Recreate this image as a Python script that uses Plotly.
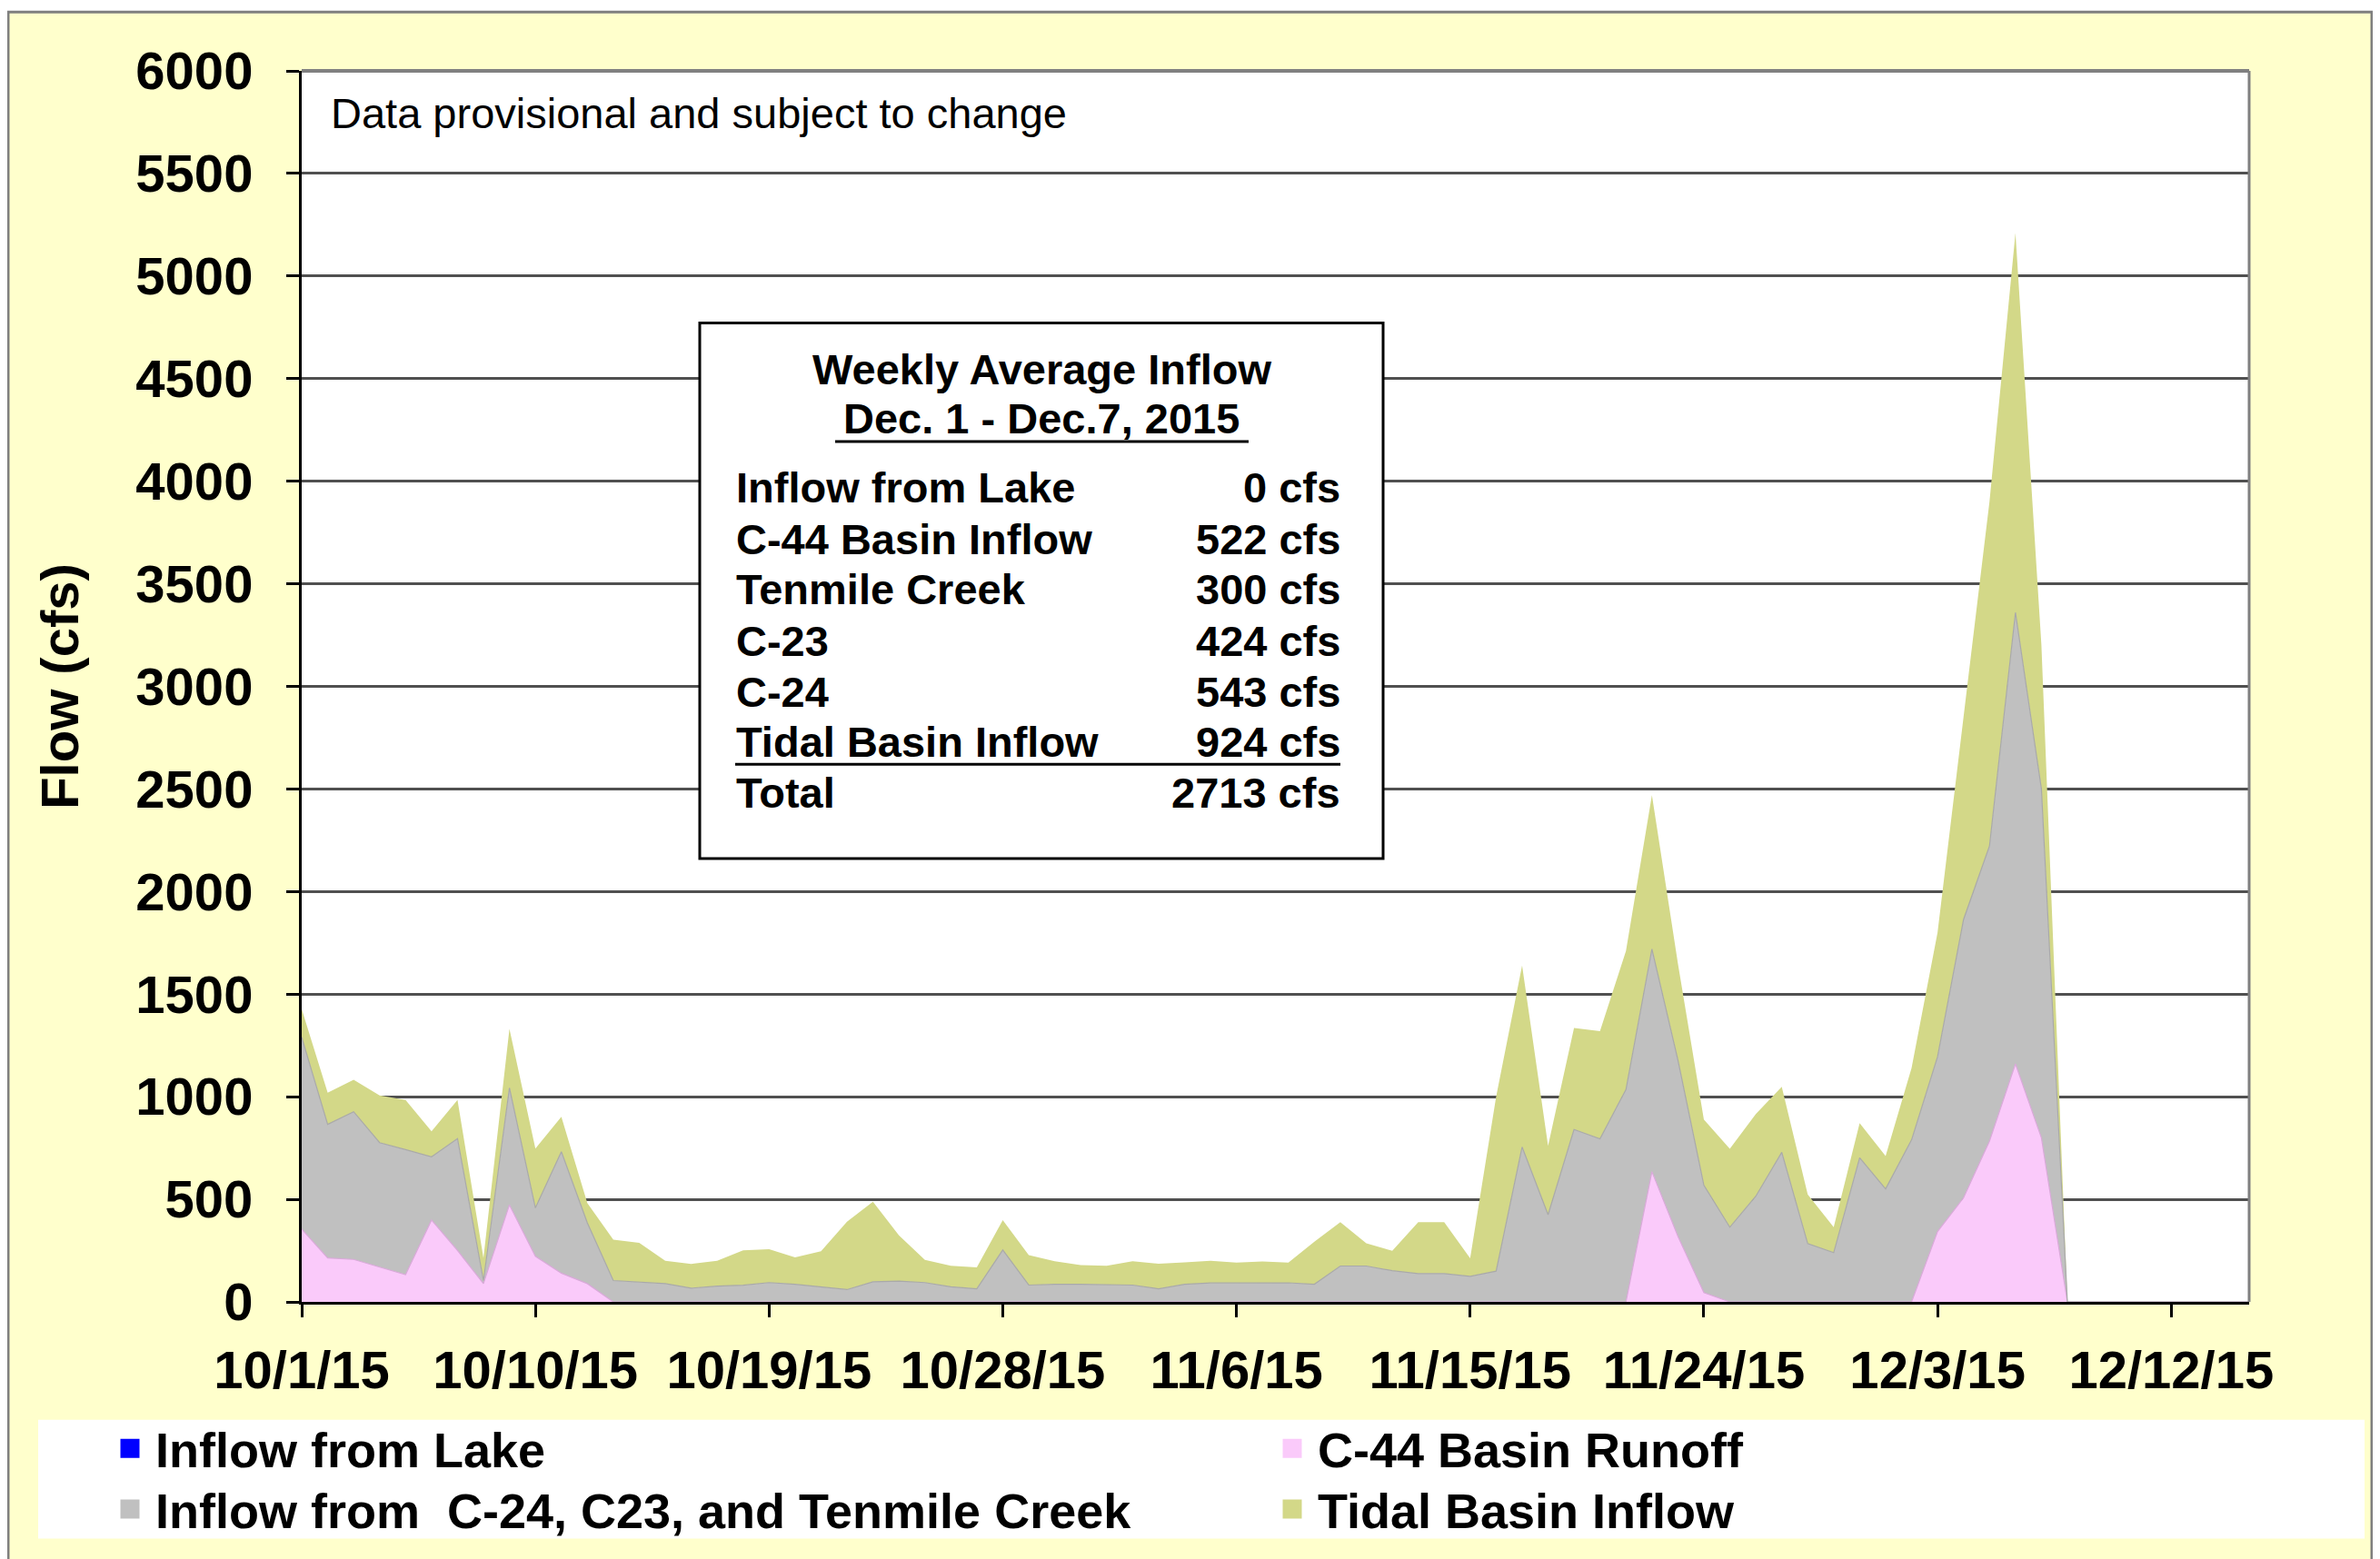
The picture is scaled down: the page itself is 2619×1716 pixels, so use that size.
import pandas as pd
import plotly.graph_objects as go

# ---------------- data ----------------
start_date = "2015-10-01"
n_days = 76
dates = pd.date_range(start_date, periods=n_days)

inflow_lake = [0, 0, 0, 0, 0, 0, 0, 0, 0, 0, 0, 0, 0, 0, 0, 0, 0, 0, 0, 0,
               0, 0, 0, 0, 0, 0, 0, 0, 0, 0, 0, 0, 0, 0, 0, 0, 0, 0, 0, 0,
               0, 0, 0, 0, 0, 0, 0, 0, 0, 0, 0, 0, 0, 0, 0, 0, 0, 0, 0, 0,
               0, 0, 0, 0, 0, 0, 0, 0, 0, 0, 0, 0, 0, 0, 0, 0]

c44_runoff = [355, 214, 207, 170, 133, 399, 251, 89, 473, 222, 140, 89,
              0, 0, 0, 0, 0, 0, 0, 0, 0, 0, 0, 0, 0, 0, 0, 0, 0, 0,
              0, 0, 0, 0, 0, 0, 0, 0, 0, 0, 0, 0, 0, 0, 0, 0, 0, 0, 0, 0,
              0, 0, 635, 320, 45, 0, 0, 0, 0, 0, 0, 0, 0,
              343, 507, 784, 1160, 800, 0, 0, 0, 0, 0, 0, 0, 0]

c24_c23_tenmile = [935, 651, 720, 606, 609, 308, 545, 15, 570, 236, 592, 296,
                   104, 96, 89, 67, 77, 81, 94, 86, 74, 60, 98, 101, 94, 74,
                   64, 253, 82, 86, 86, 83, 82, 64, 86, 92, 93, 93, 93, 86,
                   175, 175, 152, 138, 138, 125, 150, 755, 425, 840, 795,
                   1035, 1085, 860, 524, 364, 515, 729, 284, 240, 702, 551,
                   790, 852, 1356, 1438, 2200, 1700, 0, 0, 0, 0, 0, 0, 0, 0]

tidal_basin = [137, 155, 156, 230, 242, 124, 188, 110, 288, 289, 170, 96,
               199, 192, 111, 118, 123, 170, 163, 131, 173, 331, 390, 223,
               111, 102, 104, 146, 146, 112, 93, 93, 116, 122, 107, 108,
               99, 104, 99, 207, 214, 111, 97, 251, 251, 87, 850, 885, 335,
               495, 525, 675, 750, 470, 320, 382, 400, 319, 240, 124, 169,
               160, 350, 605, 987, 1678, 1850, 700, 0, 0, 0, 0, 0, 0, 0, 0]

tick_dates = ["2015-10-01", "2015-10-10", "2015-10-19", "2015-10-28",
              "2015-11-06", "2015-11-15", "2015-11-24", "2015-12-03",
              "2015-12-12"]
tick_labels = ["10/1/15", "10/10/15", "10/19/15", "10/28/15", "11/6/15",
               "11/15/15", "11/24/15", "12/3/15", "12/12/15"]

series_names = ["Inflow from Lake", "C-44 Basin Runoff",
                "Inflow from  C-24, C23, and Tenmile Creek",
                "Tidal Basin Inflow"]

box_title = "Weekly Average Inflow"
box_period = "Dec. 1 - Dec.7, 2015"
box_labels = ["Inflow from Lake", "C-44 Basin Inflow", "Tenmile Creek",
              "C-23", "C-24", "Tidal Basin Inflow", "Total"]
box_values = ["0 cfs", "522 cfs", "300 cfs", "424 cfs", "543 cfs",
              "924 cfs", "2713 cfs"]

# ---------------- style ----------------
FONT = "Arial, Liberation Sans, sans-serif"
colors = ["#0000FF", "#FACAFA", "#C0C0C0", "#D3D888"]
edge_colors = ["#0000FF", "#D9A9D9", "#A9A9A9", "#D3D888"]
edge_widths = [0, 1.2, 1.2, 0]

OFF = 8                      # page body margin of the html page
W, H = 2619 - OFF, 1716 - OFF
ML, MR, MT, MB = 332 - OFF, 144, 78 - OFF, 280
PW, PH = W - ML - MR, H - MT - MB


def px_x(px):
    """reference-image pixel -> paper x"""
    return (px - OFF - ML) / PW


def px_y(py):
    """reference-image pixel -> paper y"""
    return (OFF + MT + PH - py) / PH


fig = go.Figure()

values = [inflow_lake, c44_runoff, c24_c23_tenmile, tidal_basin]
for name, vals, col, ecol, ew in zip(series_names, values, colors,
                                       edge_colors, edge_widths):
    fig.add_trace(go.Scatter(
        x=dates, y=vals, name=name, mode="lines", stackgroup="one",
        line=dict(color=ecol, width=ew), fillcolor=col, showlegend=False,
        hoverinfo="x+y+name"))

# legend entries (square swatches)
legend_ids = ["legend", "legend3", "legend2", "legend4"]
for name, col, lid in zip(series_names, colors, legend_ids):
    fig.add_trace(go.Scatter(
        x=[None], y=[None], name=name, mode="markers",
        marker=dict(symbol="square", size=16, color=col,
                    line=dict(width=5, color=col)),
        legend=lid, showlegend=True))

legend_font = dict(family=FONT, size=54, color="black", weight="bold")
ITEMW = 46
sw_gap = (ITEMW + 10) / 2
col1_x, col2_x = px_x(143 - sw_gap), px_x(1422 - sw_gap)
row1_y, row2_y = px_y(1598), px_y(1665)
leg_common = dict(font=legend_font, bgcolor="rgba(0,0,0,0)", borderwidth=0,
                  xanchor="left", yanchor="middle", orientation="v",
                  itemwidth=ITEMW)

shapes = [
    # outer yellow panel
    dict(type="rect", xref="paper", yref="paper", layer="below",
         x0=px_x(9), x1=px_x(2610), y0=px_y(1730), y1=px_y(13),
         fillcolor="#FFFFCC", line=dict(color="#7F7F7F", width=3)),
    # white plot area
    dict(type="rect", xref="paper", yref="paper", layer="below",
         x0=0, x1=1, y0=0, y1=1, fillcolor="white", line=dict(width=0)),
    # legend white band
    dict(type="rect", xref="paper", yref="paper", layer="below",
         x0=px_x(42), x1=px_x(2602), y0=px_y(1697), y1=px_y(1566),
         fillcolor="white", line=dict(width=0)),
    # plot border top & right (gray)
    dict(type="line", xref="paper", yref="paper", layer="above",
         x0=0, x1=1, y0=1, y1=1, line=dict(color="#808080", width=4)),
    dict(type="line", xref="paper", yref="paper", layer="above",
         x0=1, x1=1, y0=0, y1=1, line=dict(color="#808080", width=3)),
    # info box
    dict(type="rect", xref="paper", yref="paper", layer="above",
         x0=px_x(770), x1=px_x(1522), y0=px_y(947), y1=px_y(356),
         fillcolor="white", line=dict(color="black", width=3)),
    # underline of period
    dict(type="line", xref="paper", yref="paper", layer="above",
         x0=px_x(919), x1=px_x(1374), y0=px_y(487), y1=px_y(487),
         line=dict(color="black", width=3)),
    # underline above total
    dict(type="line", xref="paper", yref="paper", layer="above",
         x0=px_x(809), x1=px_x(1475), y0=px_y(843), y1=px_y(843),
         line=dict(color="black", width=3)),
]

box_font = dict(family=FONT, size=47, color="black", weight="bold")
annotations = [
    dict(text="Data provisional and subject to change", xref="paper",
         yref="paper", x=px_x(362), y=px_y(125), xanchor="left",
         yanchor="middle", showarrow=False,
         font=dict(family=FONT, size=47, color="black")),
    dict(text=box_title, xref="paper", yref="paper", x=px_x(1146),
         y=px_y(407), xanchor="center", yanchor="middle", showarrow=False,
         font=box_font),
    dict(text=box_period, xref="paper", yref="paper", x=px_x(1146),
         y=px_y(461), xanchor="center", yanchor="middle", showarrow=False,
         font=box_font),
]
row_y = [538, 595, 650, 707, 763, 818, 874]
for lab, val, ry in zip(box_labels, box_values, row_y):
    annotations.append(dict(text=lab, xref="paper", yref="paper",
                            x=px_x(808), y=px_y(ry), xanchor="left",
                            yanchor="middle", showarrow=False, font=box_font))
    annotations.append(dict(text=val, xref="paper", yref="paper",
                            x=px_x(1477), y=px_y(ry), xanchor="right",
                            yanchor="middle", showarrow=False, font=box_font))

axis_font = dict(family=FONT, size=58, color="black", weight="bold")

fig.update_layout(
    width=W, height=H, autosize=False,
    margin=dict(l=ML, r=MR, t=MT, b=MB, pad=0),
    paper_bgcolor="white", plot_bgcolor="white",
    font=dict(family=FONT, color="black"),
    showlegend=True,
    legend=dict(x=col1_x, y=row1_y, **leg_common),
    legend2=dict(x=col1_x, y=row2_y, **leg_common),
    legend3=dict(x=col2_x, y=row1_y, **leg_common),
    legend4=dict(x=col2_x, y=row2_y, **leg_common),
    shapes=shapes,
    annotations=annotations,
    xaxis=dict(
        type="date", range=[dates[0], dates[-1]],
        tickmode="array", tickvals=tick_dates, ticktext=tick_labels,
        ticks="outside", ticklen=14, tickwidth=3, tickcolor="black",
        showline=True, linecolor="black", linewidth=3,
        showgrid=False, zeroline=False, tickfont=axis_font,
        ticklabelstandoff=8),
    yaxis=dict(
        range=[0, 6000], tick0=0, dtick=500,
        ticks="outside", ticklen=14, tickwidth=3, tickcolor="black",
        showline=True, linecolor="black", linewidth=3,
        showgrid=True, gridcolor="#505050", gridwidth=2.5,
        zeroline=False, tickfont=axis_font, ticklabelstandoff=25,
        title=dict(text="Flow (cfs)", font=axis_font, standoff=45)),
)

fig.write_html("out.html")
